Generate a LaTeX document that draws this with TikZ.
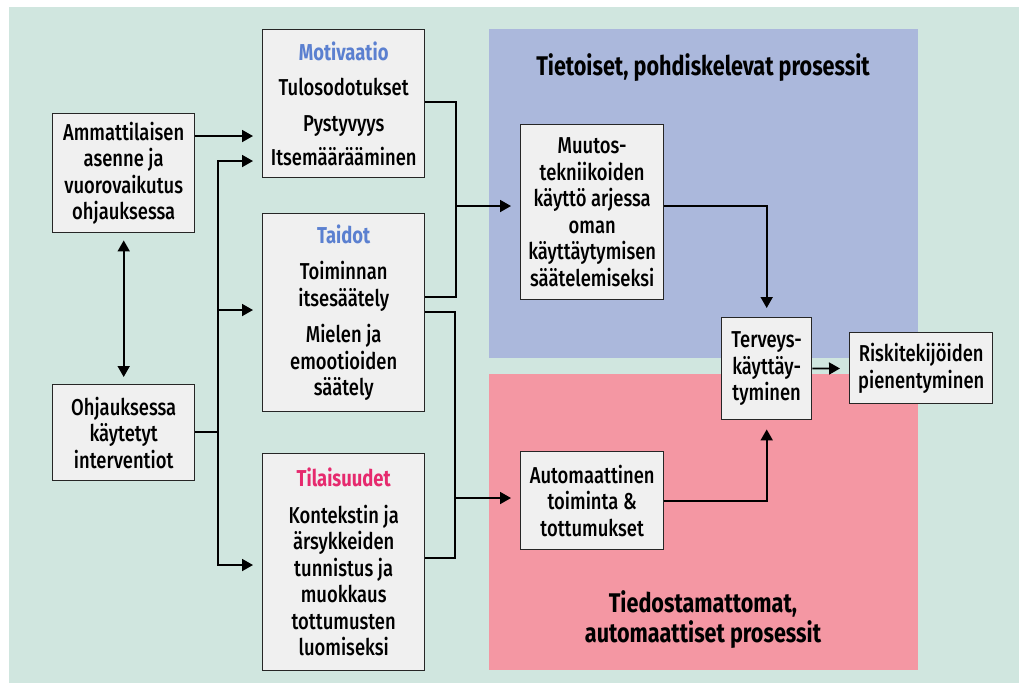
\documentclass[tikz,border=0pt]{standalone}
\usepackage{fontspec}
\setmainfont{Fira Sans}[FakeStretch=0.8, UprightFont=* Medium, BoldFont=* Bold]
\usetikzlibrary{arrows.meta,positioning}
\definecolor{mint}{HTML}{D0E6DF}
\definecolor{tietoblue}{HTML}{ABB8DC}
\definecolor{autopink}{HTML}{F497A3}
\definecolor{headblue}{HTML}{5B80D0}
\definecolor{headpink}{HTML}{E62A6E}
\tikzset{
  box/.style={draw=black!85, fill=black!6, line width=1.4pt, inner sep=0pt,
    align=center, anchor=north west, font=\fontsize{23}{26.5}\selectfont},
  area title/.style={align=center, font=\bfseries\fontsize{27}{30}\selectfont},
  conn/.style={line width=1.8pt, black},
  arr/.style={conn, -{Triangle[length=11pt,width=12pt]}, shorten >=9pt},
  dblarr/.style={conn, {Triangle[length=11pt,width=12pt]}-{Triangle[length=11pt,width=12pt]}, shorten >=7pt, shorten <=7pt}
}

\begin{document}
\begin{tikzpicture}[x=1pt,y=-1pt]
\useasboundingbox (0,0) rectangle (1019,683);
\fill[mint] (9,7) rectangle (1019,683);
\fill[tietoblue] (489,29) rectangle (918,358);
\fill[autopink] (489,374) rectangle (918,670);

\node[area title] (tietoiset) at (703,68) {Tietoiset, pohdiskelevat prosessit};
\node[area title] (tiedostamattomat) at (703,620) {Tiedostamattomat,\\automaattiset prosessit};

\node[box, minimum width=142pt, minimum height=119pt] (amm) at (52,113)
  {Ammattilaisen\\asenne ja\\vuorovaikutus\\ohjauksessa};
\node[box, minimum width=142pt, minimum height=96pt] (ohj) at (52,384)
  {Ohjauksessa\\käytetyt\\interventiot};
\node[box, minimum width=162pt, minimum height=148pt] (moti) at (262,29)
  {\textbf{\color{headblue}Motivaatio}\\[9pt]Tulosodotukset\\[9pt]Pystyvyys\\[8pt]Itsemäärääminen};
\node[box, minimum width=162pt, minimum height=198pt] (taid) at (262,213)
  {\textbf{\color{headblue}Taidot}\\[10pt]Toiminnan\\itsesäätely\\[10pt]Mielen ja\\emootioiden\\säätely};
\node[box, minimum width=162pt, minimum height=217pt] (tila) at (262,453)
  {\textbf{\color{headpink}Tilaisuudet}\\[10pt]Kontekstin ja\\ärsykkeiden\\tunnistus ja\\muokkaus\\tottumusten\\luomiseksi};
\node[box, minimum width=143pt, minimum height=175pt] (muut) at (520,124)
  {Muutos-\\tekniikoiden\\käyttö arjessa\\oman\\käyttäytymisen\\säätelemiseksi};
\node[box, minimum width=143pt, minimum height=98pt] (auto) at (520,451)
  {Automaattinen\\toiminta \&\\tottumukset};
\node[box, minimum width=90pt, minimum height=102pt] (terv) at (721,317)
  {Terveys-\\käyttäy-\\tyminen};
\node[box, minimum width=143pt, minimum height=71pt] (risk) at (849,332)
  {Riskitekijöiden\\pienentyminen};

\coordinate (trunk) at (218,432);
\coordinate (m1) at (456,206);
\coordinate (m2) at (455,498);

\draw[arr] ([yshift=-23pt]amm.north east) -- ([yshift=-107pt]moti.north west);
\draw[dblarr] (amm) -- (ohj);
\draw[conn] (ohj.east |- trunk) -- (trunk);
\draw[arr] (trunk) |- ([yshift=-132pt]moti.north west);
\draw[arr] (trunk) |- ([yshift=-97pt]taid.north west);
\draw[arr] (trunk) |- ([yshift=-112pt]tila.north west);

\draw[conn] ([yshift=-73pt]moti.north east) -| (m1) |- ([yshift=-84pt]taid.north east);
\draw[arr] (m1) -- (muut.west |- m1);
\draw[conn] ([yshift=-99pt]taid.north east) -| (m2) |- ([yshift=-105pt]tila.north east);
\draw[arr] (m2) -- (auto.west |- m2);

\draw[arr] ([yshift=-82pt]muut.north east) -| (terv.north);
\draw[arr] (auto.east) -| (terv.south);
\draw[arr] (terv) -- (risk);
\end{tikzpicture}
\end{document}
